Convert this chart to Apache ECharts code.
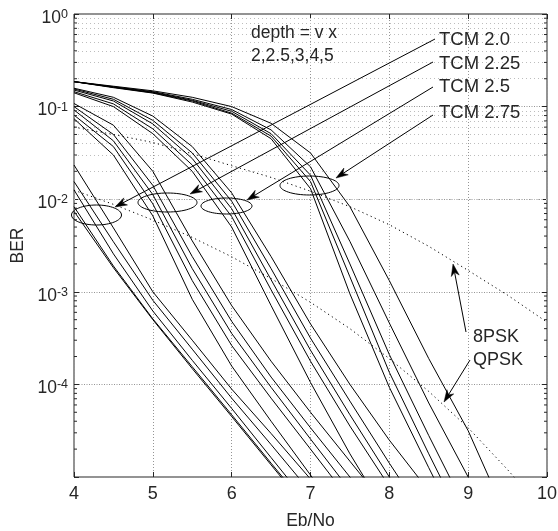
<!DOCTYPE html>
<html><head><meta charset="utf-8">
<script src="https://cdn.jsdelivr.net/npm/echarts@6/dist/echarts.min.js"></script>
<style>html,body{margin:0;padding:0;background:#fff}#c{width:558px;height:531px}</style>
</head><body><div id="c"></div>
<script>
// Eb/No sample points (dB)
const ebno = [4, 4.5, 5, 5.5, 6, 6.5, 7, 7.5, 8, 8.5, 9, 9.5, 10];

// TCM 2.0, interleaver depth = v x 2, 2.5, 3, 4, 5
const tcm20_2v  = [2.34e-2, 4.9e-3, 1.0e-3, 3.0e-4, 8.9e-5, 2.95e-5, 9.5e-6];
const tcm20_25v = [1.55e-2, 3.47e-3, 8.1e-4, 2.4e-4, 7.1e-5, 2.24e-5, 6.9e-6];
const tcm20_3v  = [1.26e-2, 2.57e-3, 6.2e-4, 1.82e-4, 5.5e-5, 1.62e-5, 4.8e-6];
const tcm20_4v  = [8.3e-3, 1.9e-3, 5.1e-4, 1.55e-4, 4.7e-5, 1.41e-5, 4.3e-6];
const tcm20_5v  = [7.4e-3, 1.82e-3, 5.0e-4, 1.48e-4, 4.5e-5, 1.35e-5, 4.1e-6];

// TCM 2.25
const tcm225_2v  = [0.108, 6.3e-2, 2.0e-2, 3.55e-3, 7.1e-4, 1.78e-4, 5.0e-5, 1.48e-5, 4.4e-6];
const tcm225_25v = [0.100, 5.0e-2, 1.41e-2, 2.4e-3, 4.8e-4, 1.2e-4, 3.4e-5, 1.0e-5, 2.95e-6];
const tcm225_3v  = [9.2e-2, 4.27e-2, 1.12e-2, 1.78e-3, 3.55e-4, 9.3e-5, 2.57e-5, 7.2e-6];
const tcm225_4v  = [8.1e-2, 3.7e-2, 8.9e-3, 1.32e-3, 2.63e-4, 7.1e-5, 2.0e-5, 5.6e-6];
const tcm225_5v  = [7.4e-2, 3.0e-2, 6.6e-3, 8.3e-4, 1.58e-4, 4.0e-5, 1.05e-5, 2.6e-6];

// TCM 2.5
const tcm25_2v  = [0.158, 0.126, 7.9e-2, 3.7e-2, 1.17e-2, 2.4e-3, 4.5e-4, 1.0e-4, 2.5e-5, 7.1e-6];
const tcm25_25v = [0.155, 0.120, 7.1e-2, 3.16e-2, 9.5e-3, 1.78e-3, 3.16e-4, 6.6e-5, 1.41e-5, 3.2e-6];
const tcm25_3v  = [0.151, 0.115, 6.5e-2, 2.75e-2, 7.9e-3, 1.35e-3, 2.34e-4, 4.7e-5, 1.0e-5, 2.2e-6];
const tcm25_4v  = [0.145, 0.107, 5.75e-2, 2.34e-2, 6.5e-3, 1.05e-3, 1.78e-4, 3.55e-5, 7.9e-6];
const tcm25_5v  = [0.141, 0.100, 5.1e-2, 2.0e-2, 5.0e-3, 7.1e-4, 1.05e-4, 1.78e-5, 3.55e-6];

// TCM 2.75
const tcm275_2v  = [0.186, 0.166, 0.148, 0.126, 0.100, 6.6e-2, 3.16e-2, 8.3e-3, 1.32e-3, 1.9e-4, 3.16e-5, 3.5e-6];
const tcm275_25v = [0.186, 0.164, 0.145, 0.120, 0.093, 5.6e-2, 2.24e-2, 3.5e-3, 4.6e-4, 6.3e-5, 1.0e-5, 1.58e-6];
const tcm275_3v  = [0.186, 0.162, 0.143, 0.117, 0.089, 5.1e-2, 1.82e-2, 2.0e-3, 2.1e-4, 2.8e-5, 4.0e-6];
const tcm275_4v  = [0.186, 0.162, 0.141, 0.115, 0.085, 4.8e-2, 1.55e-2, 1.45e-3, 1.35e-4, 1.78e-5, 2.5e-6];
const tcm275_5v  = [0.186, 0.160, 0.140, 0.112, 0.083, 4.5e-2, 1.3e-2, 9.5e-4, 9.3e-5, 1.26e-5, 1.78e-6];

// uncoded references
const qpsk = [1.25e-2, 8.8e-3, 5.95e-3, 3.87e-3, 2.39e-3, 1.39e-3, 7.7e-4, 4.0e-4, 1.9e-4, 8.4e-5, 3.4e-5, 1.2e-5, 3.9e-6];
const psk8 = [6.0e-2, 5.0e-2, 4.1e-2, 3.1e-2, 2.3e-2, 1.72e-2, 1.22e-2, 8.3e-3, 5.3e-3, 3.1e-3, 1.7e-3, 9.2e-4, 4.7e-4];

// axis ticks
const xTicks = [4, 5, 6, 7, 8, 9, 10];
const yDecades = [-5, -4, -3, -2, -1, 0];

const FONT = "'Liberation Sans', Arial, sans-serif";
const INK = '#262626';

const curves = [
  ['TCM 2.0 2v', tcm20_2v], ['TCM 2.0 2.5v', tcm20_25v], ['TCM 2.0 3v', tcm20_3v], ['TCM 2.0 4v', tcm20_4v], ['TCM 2.0 5v', tcm20_5v],
  ['TCM 2.25 2v', tcm225_2v], ['TCM 2.25 2.5v', tcm225_25v], ['TCM 2.25 3v', tcm225_3v], ['TCM 2.25 4v', tcm225_4v], ['TCM 2.25 5v', tcm225_5v],
  ['TCM 2.5 2v', tcm25_2v], ['TCM 2.5 2.5v', tcm25_25v], ['TCM 2.5 3v', tcm25_3v], ['TCM 2.5 4v', tcm25_4v], ['TCM 2.5 5v', tcm25_5v],
  ['TCM 2.75 2v', tcm275_2v], ['TCM 2.75 2.5v', tcm275_25v], ['TCM 2.75 3v', tcm275_3v], ['TCM 2.75 4v', tcm275_4v], ['TCM 2.75 5v', tcm275_5v]
];

function pts(vals) { return vals.map((v, i) => [ebno[i], v]); }

// minor log grid values
const minorVals = [];
yDecades.slice(0, -1).forEach(e => { for (let m = 2; m <= 9; m++) minorVals.push(m * Math.pow(10, e)); });

const series = curves.map(([name, vals]) => ({
  name, type: 'line', data: pts(vals), showSymbol: false, symbol: 'none', clip: true,
  lineStyle: { color: '#000', width: 1 }, animation: false, silent: true, z: 3
}));
series.push({
  name: '8PSK', type: 'line', data: pts(psk8), showSymbol: false, symbol: 'none', clip: true,
  lineStyle: { color: '#000', width: 1, type: [1.2, 3.3] }, animation: false, silent: true, z: 3
});
series.push({
  name: 'QPSK', type: 'line', data: pts(qpsk), showSymbol: false, symbol: 'none', clip: true,
  lineStyle: { color: '#000', width: 1, type: [1.2, 3.3] }, animation: false, silent: true, z: 3,
  markLine: {
    silent: true, symbol: 'none', animation: false, z: 1, label: { show: false },
    lineStyle: { color: '#bdbdbd', width: 1, type: [1, 3] },
    data: minorVals.map(v => ({ yAxis: v }))
  }
});

const chart = echarts.init(document.getElementById('c'), null, { renderer: 'canvas' });
const grid = { left: 74, top: 14, width: 473, height: 463 };
const xCommon = { type: 'value', min: 4, max: 10, interval: 1 };
const yCommon = { type: 'log', logBase: 10, min: 1e-5, max: 1, interval: 1 };

chart.setOption({
  animation: false,
  backgroundColor: '#fff',
  textStyle: { fontFamily: FONT, color: INK },
  grid: Object.assign({ show: true, borderColor: INK, borderWidth: 1, backgroundColor: 'transparent', outerBoundsMode: 'none', containLabel: false }, grid),
  xAxis: [
    Object.assign({}, xCommon, {
      position: 'bottom',
      name: 'Eb/No', nameLocation: 'middle', nameGap: 35, nameMoveOverlap: false,
      nameTextStyle: { fontSize: 17.5, color: INK, fontFamily: FONT },
      axisLine: { show: false },
      axisTick: { show: true, inside: true, length: 5, lineStyle: { color: INK } },
      axisLabel: { fontSize: 18, color: INK, margin: 8, fontFamily: FONT, formatter: v => String(v) },
      splitLine: { show: true, lineStyle: { color: '#959595', width: 1, type: [1, 2] } },
      minorTick: { show: false }, minorSplitLine: { show: false }
    }),
    Object.assign({}, xCommon, {
      position: 'top',
      axisLine: { show: false },
      axisTick: { show: true, inside: true, length: 5, lineStyle: { color: INK } },
      axisLabel: { show: false }, splitLine: { show: false }
    })
  ],
  yAxis: [
    Object.assign({}, yCommon, {
      position: 'left',
      name: 'BER', nameLocation: 'middle', nameGap: 47, nameRotate: 90, nameMoveOverlap: false,
      nameTextStyle: { fontSize: 17.5, color: INK, fontFamily: FONT },
      axisLine: { show: false },
      axisTick: { show: true, inside: true, length: 5, lineStyle: { color: INK } },
      axisLabel: {
        margin: 6, color: INK, fontFamily: FONT, padding: [8, 0, 0, 0],
        formatter: v => {
          const e = Math.round(Math.log10(v));
          if (e === -5) return '';
          return '{b|10}{s|' + e + '}';
        },
        rich: {
          b: { fontSize: 17.5, lineHeight: 20, color: INK, fontFamily: FONT },
          s: { fontSize: 12.5, lineHeight: 10, verticalAlign: 'top', color: INK, fontFamily: FONT }
        }
      },
      splitLine: { show: true, lineStyle: { color: '#959595', width: 1, type: [1, 1.5] } },
      minorTick: { show: false }, minorSplitLine: { show: false }
    }),
    Object.assign({}, yCommon, {
      position: 'right',
      axisLine: { show: false },
      axisTick: { show: true, inside: true, length: 5, lineStyle: { color: INK } },
      axisLabel: { show: false }, splitLine: { show: false }
    })
  ],
  series
});

// annotations
function arrow(x1, y1, x2, y2) {
  const dx = x2 - x1, dy = y2 - y1, len = Math.hypot(dx, dy);
  const ux = dx / len, uy = dy / len, nx = -uy, ny = ux;
  const L = 12, W = 4;
  const bx = x2 - ux * L, by = y2 - uy * L;
  const kx = x2 - ux * L * 0.7, ky = y2 - uy * L * 0.7;
  return [
    { type: 'line', shape: { x1, y1, x2: kx, y2: ky }, style: { stroke: '#000', lineWidth: 1 }, silent: true, z: 10 },
    { type: 'polygon', shape: { points: [[x2, y2], [bx + nx * W, by + ny * W], [kx, ky], [bx - nx * W, by - ny * W]] },
      style: { fill: '#000', stroke: '#000', lineWidth: 0.5 }, silent: true, z: 10 }
  ];
}
function ell(cx, cy, rx, ry) {
  return { type: 'ellipse', shape: { cx, cy, rx, ry }, style: { fill: null, stroke: '#000', lineWidth: 1 }, silent: true, z: 10 };
}
function txt(x, y, t, fs) {
  return { type: 'text', x, y, style: { text: t, fontSize: fs, fontFamily: FONT, fill: INK, align: 'left', verticalAlign: 'middle' }, silent: true, z: 10 };
}

const g = [];
g.push(ell(96.5, 215, 25, 10), ell(167.5, 202.5, 29.5, 9.5), ell(226.5, 206, 25.5, 8), ell(309.5, 185.5, 29.5, 9.5));
g.push(...arrow(435, 39, 115, 207), ...arrow(433, 62, 190, 194), ...arrow(433, 87, 247, 200), ...arrow(433, 115, 336, 178));
g.push(...arrow(466, 332, 453, 264), ...arrow(470, 360, 444, 402));
g.push(txt(251, 33.5, 'depth = v x', 17.5), txt(251, 56, '2,2.5,3,4,5', 17.5));
g.push(txt(439, 40, 'TCM 2.0', 18.5), txt(439, 64, 'TCM 2.25', 18.5), txt(439, 87, 'TCM 2.5', 18.5), txt(439, 113, 'TCM 2.75', 18.5));
g.push(txt(473, 337, '8PSK', 18), txt(473, 360, 'QPSK', 18));

// minor ticks on left and right frame edges
const xl = chart.convertToPixel({ xAxisIndex: 0 }, 4);
const xr = chart.convertToPixel({ xAxisIndex: 0 }, 10);
minorVals.forEach(v => {
  const y = chart.convertToPixel({ yAxisIndex: 0 }, v);
  g.push({ type: 'line', shape: { x1: xl, y1: y, x2: xl + 3, y2: y }, style: { stroke: INK, lineWidth: 1 }, silent: true, z: 9 });
  g.push({ type: 'line', shape: { x1: xr, y1: y, x2: xr - 3, y2: y }, style: { stroke: INK, lineWidth: 1 }, silent: true, z: 9 });
});

chart.setOption({ graphic: g });
</script>
</body></html>
